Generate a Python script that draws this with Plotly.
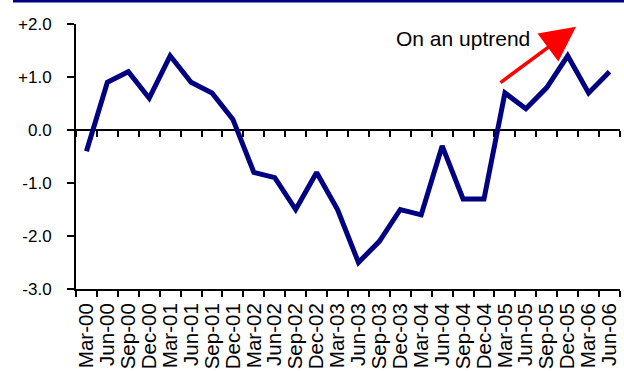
import plotly.graph_objects as go

categories = ["Mar-00", "Jun-00", "Sep-00", "Dec-00", "Mar-01", "Jun-01", "Sep-01", "Dec-01",
              "Mar-02", "Jun-02", "Sep-02", "Dec-02", "Mar-03", "Jun-03", "Sep-03", "Dec-03",
              "Mar-04", "Jun-04", "Sep-04", "Dec-04", "Mar-05", "Jun-05", "Sep-05", "Dec-05",
              "Mar-06", "Jun-06"]
values = [-0.4, 0.9, 1.1, 0.6, 1.4, 0.9, 0.7, 0.2,
          -0.8, -0.9, -1.5, -0.8, -1.5, -2.5, -2.1, -1.5,
          -1.6, -0.3, -1.3, -1.3, 0.7, 0.4, 0.8, 1.4,
          0.7, 1.1]
y_tickvals = [-3, -2, -1, 0, 1, 2]
y_ticktext = ["-3.0", "-2.0", "-1.0", "0.0", "+1.0", "+2.0"]

FONT = "Liberation Sans, Arial, sans-serif"

fig = go.Figure()

# invisible trace to carry the axis drawn at the zero line
fig.add_trace(go.Scatter(x=categories, y=values, xaxis="x2", yaxis="y",
                         mode="lines", line=dict(width=0), hoverinfo="skip",
                         showlegend=False))

fig.add_trace(go.Scatter(x=categories, y=values, mode="lines",
                         line=dict(color="#000080", width=5),
                         showlegend=False))

fig.update_layout(
    width=624, height=371,
    margin=dict(l=76, r=4, t=24, b=82, autoexpand=False),
    paper_bgcolor="white", plot_bgcolor="white",
    font=dict(family=FONT, color="black"),
    xaxis=dict(
        type="category", range=[-0.5, 25.5], automargin=False,
        showline=True, linecolor="black", linewidth=2,
        ticks="outside", ticklen=6, tickwidth=2, tickcolor="black",
        tickson="boundaries", tickangle=-90, dtick=1,
        tickfont=dict(size=20.5, family=FONT, color="black"),
        ticklabelstandoff=4,
        showgrid=False, zeroline=False,
    ),
    xaxis2=dict(
        type="category", range=[-0.5, 25.5], overlaying="x",
        anchor="free", position=0.6, side="bottom",
        showline=True, linecolor="black", linewidth=2,
        ticks="outside", ticklen=6, tickwidth=2, tickcolor="black",
        tickson="boundaries", dtick=1, showticklabels=False,
        showgrid=False, zeroline=False, layer="below traces",
    ),
    yaxis=dict(
        range=[-3, 2], tickvals=y_tickvals, ticktext=y_ticktext,
        automargin=False,
        showline=True, linecolor="black", linewidth=2,
        ticks="outside", ticklen=7, tickwidth=2, tickcolor="black",
        tickfont=dict(size=17, family=FONT, color="black"),
        ticklabelstandoff=12,
        showgrid=False, zeroline=False,
    ),
)

# arrow annotation
fig.add_annotation(
    x=23.4, y=1.95, xref="x", yref="y",
    ax=-77, ay=57, axref="pixel", ayref="pixel",
    showarrow=True, arrowhead=2, arrowsize=2.0, arrowwidth=3.5,
    arrowcolor="#FF0000", text="",
)
fig.add_annotation(
    x=(463 - 76) / 544, y=1 - (38 - 24) / 265, xref="paper", yref="paper",
    xanchor="center", yanchor="middle",
    text="On an uptrend", showarrow=False,
    font=dict(size=21, family=FONT, color="black"),
)

# navy title band at the very top (title itself is cut off)
fig.add_shape(type="rect", xref="paper", yref="paper",
              x0=(13 - 76) / 544, x1=(624 - 76) / 544,
              y0=1 + (24 - 2.5) / 265, y1=1 + 24 / 265,
              fillcolor="#000080", line=dict(width=0), layer="above")

fig.write_html("out.html")
